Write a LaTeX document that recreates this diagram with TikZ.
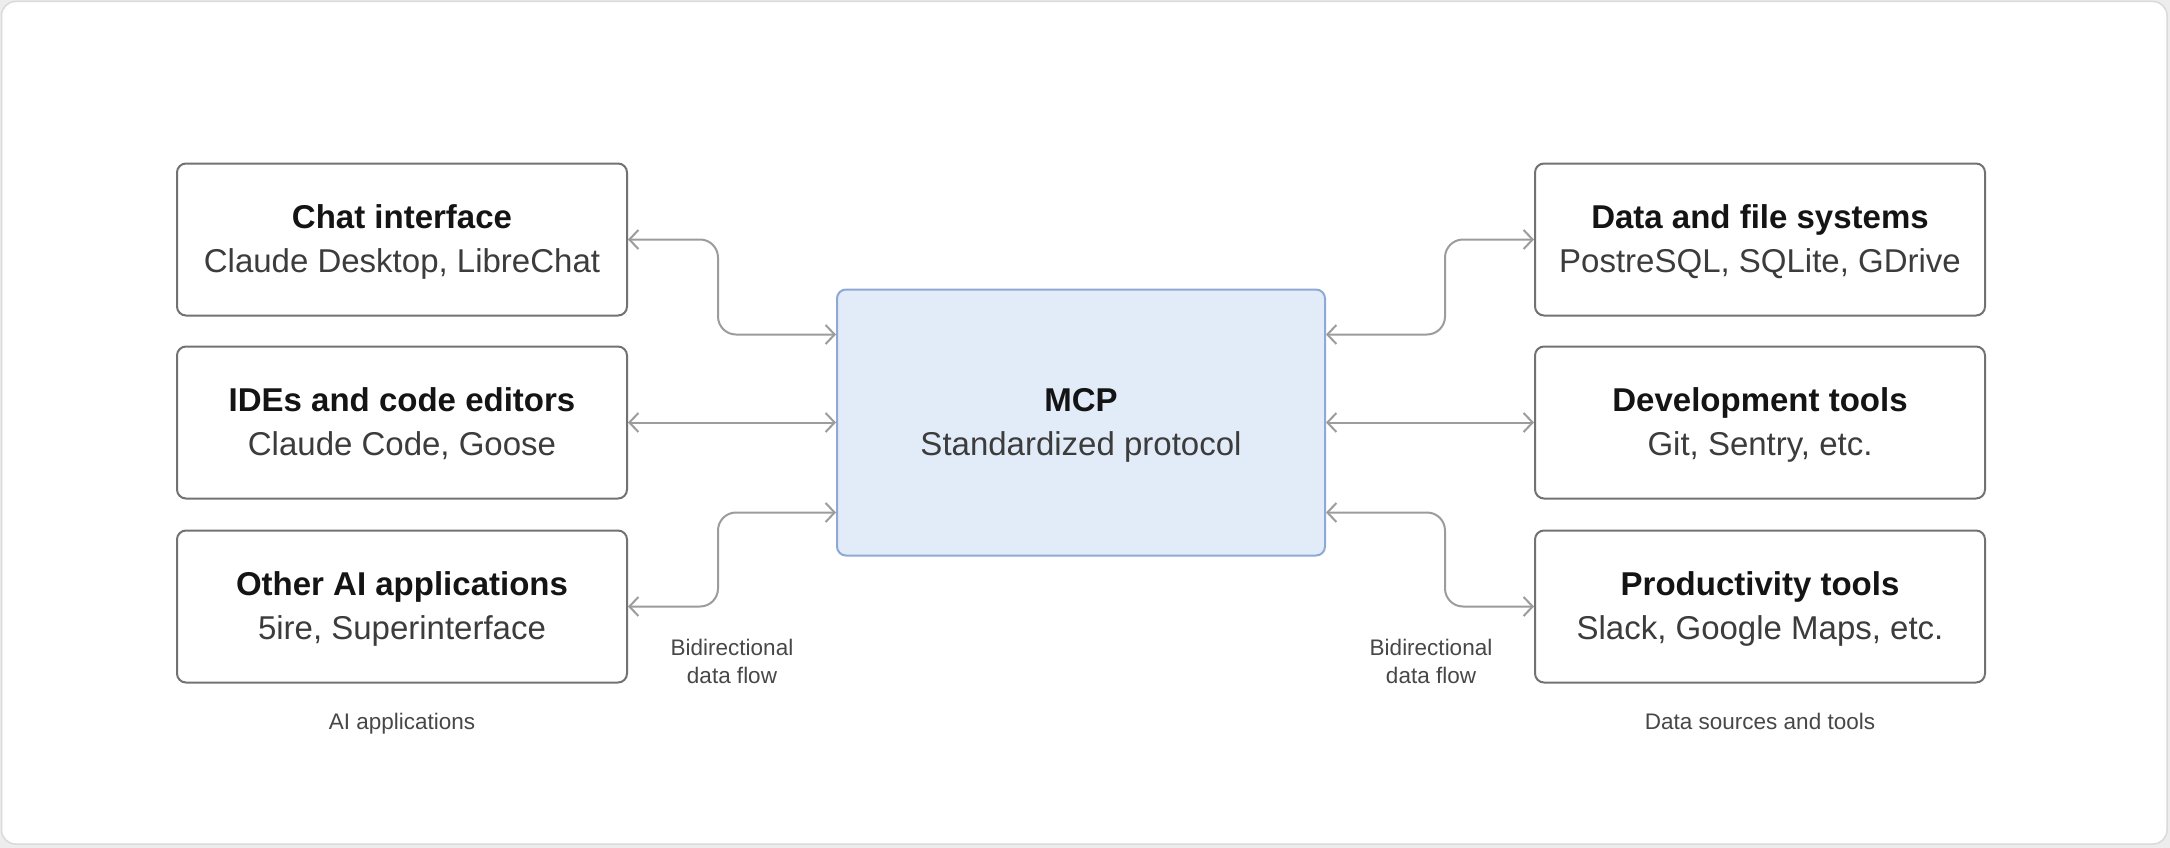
\documentclass[tikz,border=0pt]{standalone}
\usepackage{fontspec}
\setmainfont{Liberation Sans}
\usetikzlibrary{arrows.meta}
\definecolor{pagebg}{HTML}{EDEDED}
\definecolor{frameline}{HTML}{DADADA}
\definecolor{boxline}{HTML}{727272}
\definecolor{connline}{HTML}{9C9C9C}
\definecolor{mcpfill}{HTML}{E2ECF8}
\definecolor{mcpline}{HTML}{8FA9D6}
\definecolor{titletxt}{HTML}{141414}
\definecolor{subtxt}{HTML}{3C3C3C}
\definecolor{smalltxt}{HTML}{474747}
\tikzset{
  appbox/.style={draw=boxline, line width=2pt, rounded corners=9pt, fill=white,
    minimum width=450pt, minimum height=152pt, inner sep=0pt},
  mcpbox/.style={draw=mcpline, line width=2pt, rounded corners=9pt, fill=mcpfill,
    minimum width=488pt, minimum height=266pt, inner sep=0pt},
  boxtitle/.style={anchor=base, inner sep=0pt, text=titletxt,
    font=\fontsize{33}{40}\selectfont\bfseries},
  boxsub/.style={anchor=base, inner sep=0pt, text=subtxt,
    font=\fontsize{33}{40}\selectfont},
  smalllabel/.style={anchor=base, inner sep=0pt, text=smalltxt,
    font=\fontsize{22.5}{28}\selectfont},
  conn/.style={draw=connline, line width=2pt, rounded corners=18pt,
    {Straight Barb[length=9pt,width=19pt]}-{Straight Barb[length=9pt,width=19pt]}}
}
\begin{document}
\begin{tikzpicture}[x=1pt,y=-1pt]
% page and frame
\fill[pagebg] (0,0) rectangle (2170,848);
\useasboundingbox (0,0) rectangle (2170,848);
\draw[frameline, line width=1.5pt, fill=white, rounded corners=14pt] (1.5,1.5) rectangle (2167,844);

% left boxes
\node[appbox] (chat)  at (402,239.5) {};
\node[appbox] (ide)   at (402,422.5) {};
\node[appbox] (other) at (402,606.5) {};
% right boxes
\node[appbox] (data)  at (1760,239.5) {};
\node[appbox] (dev)   at (1760,422.5) {};
\node[appbox] (prod)  at (1760,606.5) {};
% centre
\node[mcpbox] (mcp) at (1081,422.5) {};

% texts
\node[boxtitle] (chatT)  at ([yshift=11pt]chat.center) {Chat interface};
\node[boxsub]   (chatS)  at ([yshift=-33pt]chat.center) {Claude Desktop, LibreChat};
\node[boxtitle] (ideT)   at ([yshift=11pt]ide.center) {IDEs and code editors};
\node[boxsub]   (ideS)   at ([yshift=-33pt]ide.center) {Claude Code, Goose};
\node[boxtitle] (otherT) at ([yshift=11pt]other.center) {Other AI applications};
\node[boxsub]   (otherS) at ([yshift=-33pt]other.center) {5ire, Superinterface};

\node[boxtitle] (dataT)  at ([yshift=11pt]data.center) {Data and file systems};
\node[boxsub]   (dataS)  at ([yshift=-33pt]data.center) {PostreSQL, SQLite, GDrive};
\node[boxtitle] (devT)   at ([yshift=11pt]dev.center) {Development tools};
\node[boxsub]   (devS)   at ([yshift=-33pt]dev.center) {Git, Sentry, etc.};
\node[boxtitle] (prodT)  at ([yshift=11pt]prod.center) {Productivity tools};
\node[boxsub]   (prodS)  at ([yshift=-33pt]prod.center) {Slack, Google Maps, etc.};

\node[boxtitle] (mcpT)   at ([yshift=11pt]mcp.center) {MCP};
\node[boxsub]   (mcpS)   at ([yshift=-33pt]mcp.center) {Standardized protocol};

% small labels
\node[smalllabel] (bidiL1) at (732,655) {Bidirectional};
\node[smalllabel] (bidiL2) at (732,683) {data flow};
\node[smalllabel] (bidiR1) at (1431,655) {Bidirectional};
\node[smalllabel] (bidiR2) at (1431,683) {data flow};
\node[smalllabel] (aiapps) at (402,729) {AI applications};
\node[smalllabel] (dstools) at (1760,729) {Data sources and tools};

% connectors
\draw[conn] (chat.east) -- ++(90,0) |- ([yshift=88pt]mcp.west);
\draw[conn] (ide.east) -- (ide.east -| mcp.west);
\draw[conn] (other.east) -- ++(90,0) |- ([yshift=-90pt]mcp.west);

\draw[conn] ([yshift=88pt]mcp.east) -- ++(119,0) |- (data.west);
\draw[conn] (dev.west -| mcp.east) -- (dev.west);
\draw[conn] ([yshift=-90pt]mcp.east) -- ++(119,0) |- (prod.west);
\end{tikzpicture}
\end{document}
